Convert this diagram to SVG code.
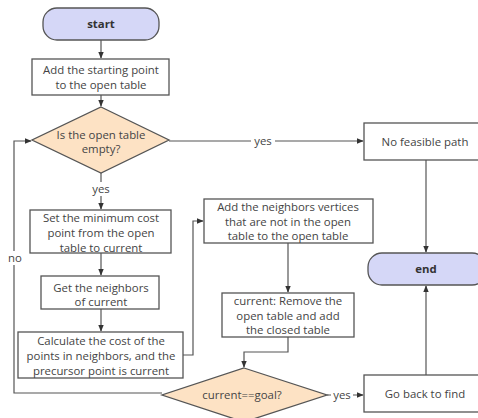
<svg xmlns="http://www.w3.org/2000/svg" width="478" height="418" viewBox="0 0 478 418">
<defs>
<marker id="ah" viewBox="0 0 10 10" refX="9" refY="5" markerWidth="7" markerHeight="7" markerUnits="userSpaceOnUse" orient="auto">
<path d="M0,1 L10,5 L0,9 Z" fill="#333"/>
</marker>
<style>
.box{fill:#fff;stroke:#555;stroke-width:1.3}
.term{fill:#d5d7f7;stroke:#555;stroke-width:1.3}
.dia{fill:#fde2c4;stroke:#555;stroke-width:1.3}
.t{font-family:"Open Sans","Noto Sans",sans-serif;font-size:11.4px;fill:#444;text-anchor:middle}
.b{font-weight:bold;fill:#333}
.ln{fill:none;stroke:#555;stroke-width:1.2;marker-end:url(#ah)}
</style>
</defs>
<rect width="478" height="418" fill="#fff"/>
<g id="connectors">
<path class="ln" d="M101,40 V58"/>
<path class="ln" d="M101,95 V106"/>
<path class="ln" d="M101,173 V209"/>
<path class="ln" d="M169,141 H363"/>
<path class="ln" d="M101,253 V275"/>
<path class="ln" d="M101,309 V331"/>
<path class="ln" d="M183,355 H193 V221 H203"/>
<path class="ln" d="M288,243 V292"/>
<path class="ln" d="M288,337 V352 H244 V367"/>
<path class="ln" d="M327,395 H363"/>
<path class="ln" d="M162,393 H14 V141 H31"/>
<path class="ln" d="M426,160 V252"/>
<path class="ln" d="M426,375 V286"/>
<rect x="251" y="134" width="24" height="14" fill="#fff"/>
<text class="t" x="263" y="145">yes</text>
<rect x="89" y="182" width="24" height="14" fill="#fff"/>
<text class="t" x="101" y="193">yes</text>
<rect x="331" y="388" width="22" height="14" fill="#fff"/>
<text class="t" x="342" y="399">yes</text>
<rect x="5" y="251" width="20" height="14" fill="#fff"/>
<text class="t" x="15" y="262">no</text>
</g>
<g id="start">
<rect class="term" x="43" y="8" width="116" height="32" rx="14"/>
<text class="t b" x="101" y="28">start</text>
</g>
<g id="add-start">
<rect class="box" x="32" y="59" width="137" height="36"/>
<text class="t" x="101" y="74">Add the starting point</text>
<text class="t" x="101" y="89">to the open table</text>
</g>
<g id="open-empty">
<polygon class="dia" points="101,107 169,140 101,173 32,140"/>
<text class="t" x="101" y="139">Is the open table</text>
<text class="t" x="101" y="153">empty?</text>
</g>
<g id="no-path">
<rect class="box" x="364" y="123" width="124" height="37"/>
<text class="t" x="425" y="146">No feasible path</text>
</g>
<g id="set-min">
<rect class="box" x="30" y="210" width="141" height="43"/>
<text class="t" x="101" y="222">Set the minimum cost</text>
<text class="t" x="101" y="237">point from the open</text>
<text class="t" x="101" y="252">table to current</text>
</g>
<g id="get-neighbors">
<rect class="box" x="41" y="276" width="118" height="33"/>
<text class="t" x="101" y="292">Get the neighbors</text>
<text class="t" x="101" y="306">of current</text>
</g>
<g id="calc-cost">
<rect class="box" x="18" y="332" width="165" height="46"/>
<text class="t" x="101" y="345">Calculate the cost of the</text>
<text class="t" x="101" y="360">points in neighbors, and the</text>
<text class="t" x="101" y="375">precursor point is current</text>
</g>
<g id="add-neighbors">
<rect class="box" x="204" y="199" width="169" height="44"/>
<text class="t" x="288" y="211">Add the neighbors vertices</text>
<text class="t" x="288" y="226">that are not in the open</text>
<text class="t" x="288" y="240">table to the open table</text>
</g>
<g id="current-remove">
<rect class="box" x="222" y="293" width="132" height="44"/>
<text class="t" x="288" y="305">current: Remove the</text>
<text class="t" x="288" y="320">open table and add</text>
<text class="t" x="288" y="334">the closed table</text>
</g>
<g id="end">
<rect class="term" x="368" y="253" width="118" height="32" rx="14"/>
<text class="t b" x="426" y="273">end</text>
</g>
<g id="goal">
<polygon class="dia" points="244,368 327,395 244,422 162,395"/>
<text class="t" x="242" y="399">current==goal?</text>
</g>
<g id="go-back">
<rect class="box" x="364" y="375" width="124" height="37"/>
<text class="t" x="425" y="398">Go back to find</text>
</g>
</svg>
